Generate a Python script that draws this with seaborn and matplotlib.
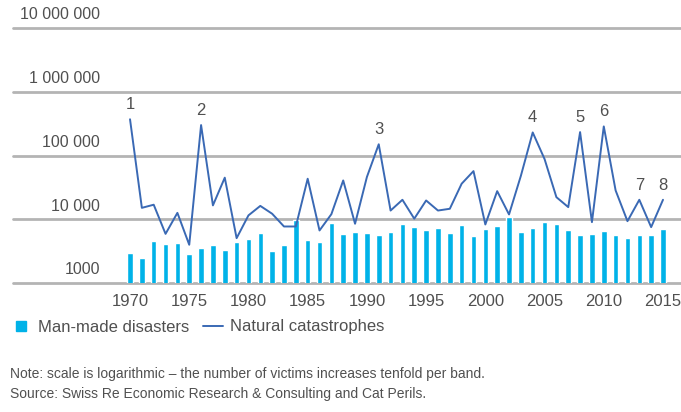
import matplotlib
matplotlib.use("Agg")
import matplotlib.pyplot as plt
from matplotlib.lines import Line2D
import seaborn as sns
import pandas as pd

# Victims per year, 1970-2015
years = list(range(1970, 2016))
man_made = [
    2940, 2490, 4480, 4020, 4280, 2800, 3570, 3880, 3240, 4370,
    4820, 6000, 3120, 3880, 9700, 4770, 4370, 8690, 5770, 6200,
    6100, 5650, 6200, 8280, 7520, 6670, 7250, 6050, 8000, 5430,
    6920, 7800, 10800, 6280, 7250, 9010, 8490, 6840, 5570, 5920,
    6500, 5570, 5050, 5570, 5570, 6920,
]
natural = [
    370000, 15100, 16900, 5900, 12600, 3980, 300000, 16500, 44900, 5050,
    11500, 16200, 12200, 7700, 7700, 43200, 6670, 12000, 40600, 8500,
    46000, 150000, 13700, 20200, 10200, 19700, 13700, 14600, 36100, 56900,
    8280, 27600, 11900, 48000, 230000, 88000, 22200, 15500, 233000, 9000,
    286000, 28300, 9330, 20200, 7520, 20200,
]
peak_years = [1970, 1976, 1991, 2004, 2008, 2010, 2013, 2015]
peak_labels = ["1", "2", "3", "4", "5", "6", "7", "8"]

grid_values = [1000, 10000, 100000, 1000000, 10000000]
grid_labels = ["1000", "10 000", "100 000", "1 000 000", "10 000 000"]
year_ticks = list(range(1970, 2016, 5))

bar_color = "#00B2E8"
line_color = "#3A69B4"
grid_color = "#B4B4B4"
text_color = "#505050"

df = pd.DataFrame({"year": years, "man_made": man_made, "natural": natural})

sns.set_style("white")
plt.rcParams["font.family"] = ["Liberation Sans", "DejaVu Sans"]

fig = plt.figure(figsize=(6.81, 4.12), dpi=100)
ax = fig.add_axes([13 / 681, 1 - 283 / 412, 668 / 681, 255 / 412])
ax.set_yscale("log")

sns.barplot(data=df, x="year", y="man_made", native_scale=True, width=0.47,
            color=bar_color, saturation=1, ax=ax, zorder=2)
sns.lineplot(data=df, x="year", y="natural", color=line_color, lw=1.4,
             ax=ax, zorder=3)

ax.set_xlim(1960.12, 2016.52)
ax.set_ylim(grid_values[0], grid_values[-1])

for v in grid_values:
    ax.axhline(v, color=grid_color, lw=2.0, zorder=1, clip_on=False)

for v, lab in zip(grid_values, grid_labels):
    ax.annotate(lab, xy=(87 / 668, v), xycoords=("axes fraction", "data"),
                xytext=(0, 9.5), textcoords="offset points", ha="right",
                va="center", fontsize=11.5, color=text_color,
                annotation_clip=False)

for yr, lab in zip(peak_years, peak_labels):
    val = natural[years.index(yr)]
    ax.annotate(lab, xy=(yr, val), xytext=(0, 5), textcoords="offset points",
                ha="center", va="bottom", fontsize=12, color=text_color,
                annotation_clip=False)

ax.set_xticks(year_ticks)
ax.set_xticklabels([str(y) for y in year_ticks], fontsize=12, color=text_color)
ax.tick_params(axis="x", length=0, pad=8)
ax.set_yticks([])
ax.minorticks_off()
ax.set_xlabel("")
ax.set_ylabel("")
for s in ax.spines.values():
    s.set_visible(False)

handles = [
    Line2D([], [], marker="s", ls="none", color=bar_color, markersize=7.5),
    Line2D([], [], color=line_color, lw=1.4),
]
fig.legend(handles, ["Man-made disasters", "Natural catastrophes"],
           loc="center left", bbox_to_anchor=(6 / 681, 1 - 327 / 412),
           ncol=2, frameon=False, fontsize=12, handlelength=1.2,
           handletextpad=0.4, columnspacing=0.85, labelcolor=text_color,
           borderaxespad=0, borderpad=0.3)

fig.text(10 / 681, 1 - 374 / 412,
         "Note: scale is logarithmic \u2013 the number of victims increases tenfold per band.",
         fontsize=10, color=text_color, va="center", ha="left")
fig.text(10 / 681, 1 - 394 / 412,
         "Source: Swiss Re Economic Research & Consulting and Cat Perils.",
         fontsize=10, color=text_color, va="center", ha="left")

fig.savefig("out.png", dpi=100)
